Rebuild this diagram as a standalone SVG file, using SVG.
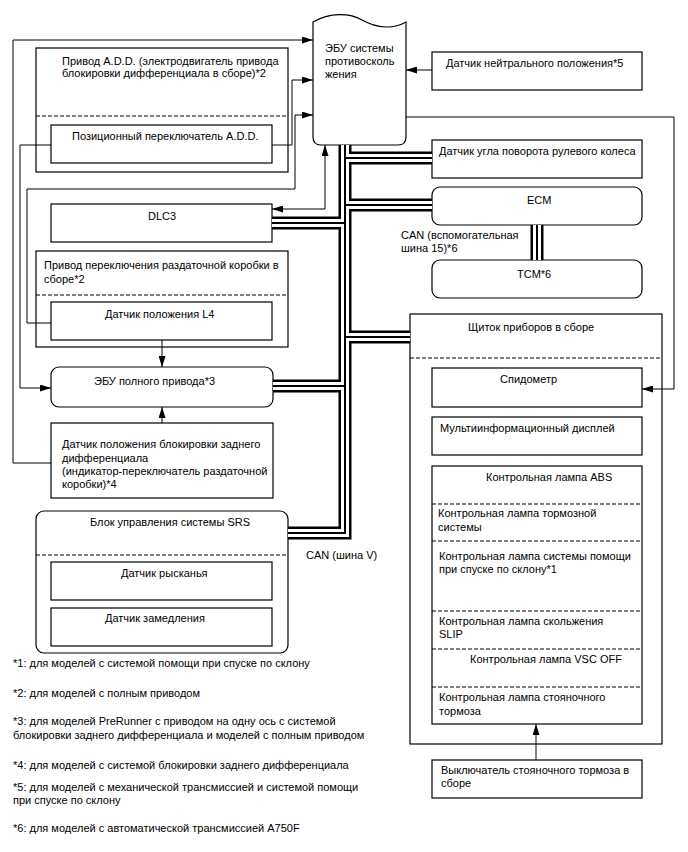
<svg xmlns="http://www.w3.org/2000/svg" width="688" height="852" viewBox="0 0 688 852">
<style>
.box{fill:#fff;stroke:#000;stroke-width:1.2}
.dash{fill:none;stroke:#000;stroke-width:1;stroke-dasharray:4 2}
.wire{fill:none;stroke:#000;stroke-width:1}
.t{font-family:"Liberation Sans",Arial,sans-serif;font-size:11px;fill:#000}
.bb{fill:none;stroke:#000;stroke-width:13}
.bw{fill:none;stroke:#fff;stroke-width:8}
.bc{fill:none;stroke:#000;stroke-width:2}
</style>
<defs>
<marker id="ah" markerUnits="userSpaceOnUse" markerWidth="11" markerHeight="7" refX="11" refY="3.5" orient="auto-start-reverse">
<path d="M0,0 L11,3.5 L0,7 Z" fill="#000"/>
</marker>
</defs>
<rect width="688" height="852" fill="#fff"/>

<g id="abs-ecu">
<path class="box" d="M313,22 C330,12 350,13 362,20 C378,29 394,29 406,22 V137 Q406,145 398,145 H321 Q313,145 313,137 Z"/>
<text class="t" x="325" y="52">ЭБУ системы</text>
<text class="t" x="325" y="65">противосколь</text>
<text class="t" x="325" y="78">жения</text>
</g>
<g id="add-actuator">
<rect class="box" x="36" y="48" width="252" height="124"/>
<line class="dash" x1="36" y1="116" x2="288" y2="116"/>
<text class="t" x="62" y="65">Привод A.D.D. (электродвигатель привода</text>
<text class="t" x="62" y="77">блокировки дифференциала в сборе)*2</text>
</g>
<g id="add-switch">
<rect class="box" x="51" y="125" width="221" height="38"/>
<text class="t" x="72" y="140">Позиционный переключатель A.D.D.</text>
</g>
<g id="neutral-sensor">
<rect class="box" x="432" y="52" width="210" height="38"/>
<text class="t" x="446" y="67">Датчик нейтрального положения*5</text>
</g>
<g id="steering-sensor">
<rect class="box" x="432" y="140" width="210" height="38"/>
<text class="t" x="439" y="155">Датчик угла поворота рулевого колеса</text>
</g>
<g id="ecm">
<rect class="box" x="432" y="187" width="210" height="38" rx="8"/>
<text class="t" x="527" y="204">ECM</text>
</g>
<g id="tcm">
<rect class="box" x="432" y="260" width="210" height="38" rx="8"/>
<text class="t" x="517" y="278">TCM*6</text>
</g>
<g id="dlc3">
<rect class="box" x="51" y="204" width="221" height="38"/>
<text class="t" x="148" y="220">DLC3</text>
</g>
<g id="transfer-actuator">
<rect class="box" x="36" y="251" width="252" height="96"/>
<line class="dash" x1="36" y1="295" x2="288" y2="295"/>
<text class="t" x="44" y="269">Привод переключения раздаточной коробки в</text>
<text class="t" x="44" y="283">сборе*2</text>
</g>
<g id="l4-sensor">
<rect class="box" x="51" y="302" width="221" height="38"/>
<text class="t" x="105" y="318">Датчик положения L4</text>
</g>
<g id="4wd-ecu">
<rect class="box" x="51" y="367" width="222" height="40" rx="8"/>
<text class="t" x="94" y="385">ЭБУ полного привода*3</text>
</g>
<g id="rear-diff-sensor">
<rect class="box" x="51" y="423" width="222" height="75"/>
<text class="t" x="62" y="448">Датчик положения блокировки заднего</text>
<text class="t" x="62" y="462">дифференциала</text>
<text class="t" x="62" y="475">(индикатор-переключатель раздаточной</text>
<text class="t" x="62" y="488">коробки)*4</text>
</g>
<g id="srs">
<rect class="box" x="36" y="511" width="252" height="142" rx="8"/>
<line class="dash" x1="36" y1="555" x2="288" y2="555"/>
<text class="t" x="90" y="526">Блок управления системы SRS</text>
</g>
<g id="yaw-sensor">
<rect class="box" x="51" y="562" width="221" height="38"/>
<text class="t" x="121" y="577">Датчик рысканья</text>
</g>
<g id="decel-sensor">
<rect class="box" x="51" y="608" width="221" height="38"/>
<text class="t" x="105" y="622">Датчик замедления</text>
</g>
<g id="combination-meter">
<rect class="box" x="410" y="314" width="252" height="430"/>
<line class="dash" x1="410" y1="358" x2="662" y2="358"/>
<text class="t" x="468" y="331">Щиток приборов в сборе</text>
</g>
<g id="speedometer">
<rect class="box" x="432" y="368" width="210" height="39"/>
<text class="t" x="500" y="383">Спидометр</text>
</g>
<g id="multi-display">
<rect class="box" x="432" y="417" width="210" height="38"/>
<text class="t" x="440" y="432">Мультиинформационный дисплей</text>
</g>
<g id="warning-lamps">
<rect class="box" x="432" y="466" width="210" height="258"/>
<line class="dash" x1="432" y1="504" x2="642" y2="504"/>
<line class="dash" x1="432" y1="541" x2="642" y2="541"/>
<line class="dash" x1="432" y1="611" x2="642" y2="611"/>
<line class="dash" x1="432" y1="649" x2="642" y2="649"/>
<line class="dash" x1="432" y1="687" x2="642" y2="687"/>
<text class="t" x="486" y="481">Контрольная лампа ABS</text>
<text class="t" x="438" y="517">Контрольная лампа тормозной</text>
<text class="t" x="438" y="531">системы</text>
<text class="t" x="439" y="560">Контрольная лампа системы помощи</text>
<text class="t" x="439" y="573">при спуске по склону*1</text>
<text class="t" x="439" y="625">Контрольная лампа скольжения</text>
<text class="t" x="439" y="638">SLIP</text>
<text class="t" x="470" y="663">Контрольная лампа VSC OFF</text>
<text class="t" x="439" y="701">Контрольная лампа стояночного</text>
<text class="t" x="439" y="715">тормоза</text>
</g>
<g id="parking-brake-switch">
<rect class="box" x="432" y="760" width="210" height="38"/>
<text class="t" x="441" y="774">Выключатель стояночного тормоза в</text>
<text class="t" x="441" y="787">сборе</text>
</g>

<g id="connectors">
<path class="bb" d="M288,533 H345 V145"/>
<path class="bb" d="M345,158 H432 M345,205 H432 M272,223 H345 M345,337 H410 M273,386 H345 M537,225 V260"/>
<path class="bw" d="M288,533 H345 V145"/>
<path class="bw" d="M345,158 H432 M345,205 H432 M272,223 H345 M345,337 H410 M273,386 H345 M537,225 V260"/>
<path class="bc" d="M288,533 H345 V145"/>
<path class="bc" d="M345,158 H432 M345,205 H432 M272,223 H345 M345,337 H410 M273,386 H345 M537,225 V260"/>
<path class="wire" d="M51,463 H13 V40 H313" marker-end="url(#ah)"/>
<path class="wire" d="M272,145 H292 V80 H313" marker-end="url(#ah)"/>
<path class="wire" d="M51,323 H27 V189 H295 V115 H313" marker-end="url(#ah)"/>
<path class="wire" d="M51,145 H20 V388 H51" marker-end="url(#ah)"/>
<path class="wire" d="M432,70 H406" marker-end="url(#ah)"/>
<path class="wire" d="M272,209 H325 V145" marker-start="url(#ah)" marker-end="url(#ah)"/>
<path class="wire" d="M406,117 H674 V389 H642" marker-end="url(#ah)"/>
<path class="wire" d="M162,340 V367" marker-end="url(#ah)"/>
<path class="wire" d="M162,423 V407" marker-end="url(#ah)"/>
<path class="wire" d="M536,760 V724" marker-end="url(#ah)"/>
</g>

<text class="t" x="401" y="239">CAN (вспомогательная</text>
<text class="t" x="401" y="252">шина 15)*6</text>
<text class="t" x="306" y="559">CAN (шина V)</text>

<text class="t" x="13" y="667">*1: для моделей с системой помощи при спуске по склону</text>
<text class="t" x="13" y="697">*2: для моделей с полным приводом</text>
<text class="t" x="13" y="725">*3: для моделей PreRunner с приводом на одну ось с системой</text>
<text class="t" x="13" y="739">блокировки заднего дифференциала и моделей с полным приводом</text>
<text class="t" x="13" y="769">*4: для моделей с системой блокировки заднего дифференциала</text>
<text class="t" x="13" y="791">*5: для моделей с механической трансмиссией и системой помощи</text>
<text class="t" x="13" y="804">при спуске по склону</text>
<text class="t" x="13" y="832">*6: для моделей с автоматической трансмиссией A750F</text>
</svg>
